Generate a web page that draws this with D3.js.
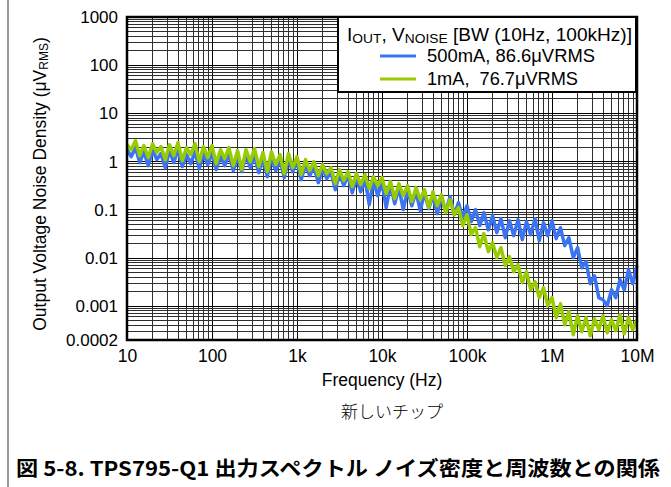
<!DOCTYPE html>
<html><head><meta charset="utf-8">
<script src="https://cdn.jsdelivr.net/npm/d3@7"></script>
<style>body{margin:0;background:#fff}svg{display:block}</style>
</head><body>
<svg id="c" width="671" height="487"></svg>
<script>
// ---- data ----
const freqs = [
 10,11.2,12.6,14.1,15.8,17.8,20,22.4,25.1,28.2,31.6,35.5,39.8,44.7,50.1,56.2,63.1,70.8,79.4,89.1,
 100,112,126,141,158,178,200,224,251,282,316,355,398,447,501,562,631,708,794,891,
 1e3,1.12e3,1.26e3,1.41e3,1.58e3,1.78e3,2e3,2.24e3,2.51e3,2.82e3,3.16e3,3.55e3,3.98e3,4.47e3,5.01e3,5.62e3,6.31e3,7.08e3,7.94e3,8.91e3,
 1e4,1.12e4,1.26e4,1.41e4,1.58e4,1.78e4,2e4,2.24e4,2.51e4,2.82e4,3.16e4,3.55e4,3.98e4,4.47e4,5.01e4,5.62e4,6.31e4,7.08e4,7.94e4,8.91e4,
 1e5,1.12e5,1.26e5,1.41e5,1.58e5,1.78e5,2e5,2.24e5,2.51e5,2.82e5,3.16e5,3.55e5,3.98e5,4.47e5,5.01e5,5.62e5,6.31e5,7.08e5,7.94e5,8.91e5,
 1e6,1.12e6,1.26e6,1.41e6,1.58e6,1.78e6,2e6,2.24e6,2.51e6,2.82e6,3.16e6,3.55e6,3.98e6,4.47e6,5.01e6,5.62e6,6.31e6,7.08e6,7.94e6,8.91e6,
 1e7
];
const noise500mA = [
 1.77,1.27,1.95,0.953,1.61,0.826,1.77,1.10,1.47,0.751,1.69,0.953,1.77,0.788,1.40,0.909,1.61,0.716,1.47,0.867,
 1.54,0.682,1.33,0.826,1.47,0.651,1.27,0.620,1.40,0.751,1.33,0.591,1.21,0.488,1.27,0.651,1.10,0.466,1.15,0.620,
 1.00,0.423,0.867,0.512,0.788,0.367,0.716,0.444,0.620,0.262,0.564,0.318,0.512,0.227,0.466,0.238,0.444,0.128,0.404,0.197,
 0.367,0.111,0.333,0.134,0.289,0.101,0.262,0.122,0.238,0.0962,0.227,0.106,0.197,0.0834,0.179,0.0918,0.188,0.0795,0.141,0.0689,
 0.122,0.0569,0.101,0.0470,0.0875,0.0388,0.0758,0.0337,0.0657,0.0265,0.0597,0.0292,0.0626,0.0241,0.0569,0.0306,0.0657,0.0230,0.0543,0.0292,
 0.0597,0.0253,0.0427,0.0181,0.0265,0.0102,0.0164,0.00632,0.00842,0.00294,0.00431,0.00151,0.00137,0.00103,0.00221,0.00151,0.00356,0.00221,0.00574,0.00294,
 0.00696
];
const noise1mA = [
 2.25,1.77,2.73,1.33,2.15,1.21,2.36,1.54,2.05,1.10,2.25,1.33,2.48,1.05,1.95,1.40,2.36,1.00,2.05,1.21,
 2.15,0.909,1.77,1.15,1.95,0.826,1.69,0.682,1.77,1.00,1.86,0.788,1.54,0.620,1.61,0.867,1.40,0.564,1.47,0.751,
 1.27,0.537,1.10,0.651,1.00,0.512,0.867,0.564,0.751,0.350,0.682,0.404,0.620,0.303,0.564,0.333,0.537,0.275,0.488,0.318,
 0.466,0.217,0.385,0.171,0.350,0.197,0.318,0.148,0.289,0.163,0.262,0.111,0.238,0.122,0.207,0.0875,0.163,0.0795,0.111,0.0470,
 0.0795,0.0306,0.0427,0.0172,0.0321,0.0136,0.0209,0.0102,0.0164,0.00696,0.0107,0.00522,0.00730,0.00309,0.00522,0.00221,0.00324,0.00151,0.00243,0.00103,
 0.00151,0.000580,0.00113,0.000415,0.000773,0.000258,0.000638,0.000297,0.000580,0.000245,0.000553,0.000327,0.000638,0.000283,0.000527,0.000312,0.000669,0.000270,0.000580,0.000327,
 0.000527
];
const xTickValues = [10,100,1e3,1e4,1e5,1e6,1e7];
const xTickLabels = ["10","100","1k","10k","100k","1M","10M"];
const yTickValues = [1000,100,10,1,0.1,0.01,0.001,0.0002];
const yTickLabels = ["1000","100","10","1","0.1","0.01","0.001","0.0002"];
const seriesLabels = ["500mA, 86.6\u03bcVRMS","1mA,  76.7\u03bcVRMS"];
const seriesColors = ["#3b74f2","#99cc00"];

// ---- drawing ----
const svg = d3.select("#c");
const FONT = "'Liberation Sans', Arial, Helvetica, sans-serif";
const M = {left:127, right:637, top:17, bottom:340};

svg.append("rect").attr("x",0).attr("y",0).attr("width",671).attr("height",487).attr("fill","#fff");
svg.append("line").attr("x1",8).attr("x2",8).attr("y1",0).attr("y2",487)
   .attr("stroke","#9a9a9a").attr("stroke-width",2);

const x = d3.scaleLog().domain([10,1e7]).range([M.left,M.right]);
const y = d3.scaleLog().domain([0.0002,1000]).range([M.bottom,M.top]);

const grid = svg.append("g").attr("shape-rendering","crispEdges");
const isMajor = v => Math.abs(Math.log10(v) - Math.round(Math.log10(v))) < 1e-6;
x.ticks().forEach(v => {
  grid.append("line").attr("x1",x(v)).attr("x2",x(v)).attr("y1",M.top).attr("y2",M.bottom)
    .attr("stroke", isMajor(v) ? "#000" : "#2e2e2e").attr("stroke-width",1);
});
y.ticks().filter(v => v >= 0.0002 && v <= 1000).forEach(v => {
  grid.append("line").attr("x1",M.left).attr("x2",M.right).attr("y1",y(v)).attr("y2",y(v))
    .attr("stroke", isMajor(v) ? "#000" : "#2e2e2e").attr("stroke-width",1);
});

// series
const line = d3.line().x((d,i) => x(freqs[i])).y(d => y(d));
[noise500mA, noise1mA].forEach((s,k) => {
  svg.append("path").datum(s).attr("d",line).attr("fill","none")
    .attr("stroke",seriesColors[k]).attr("stroke-width",3.5).attr("stroke-linejoin","round");
});

// frame
svg.append("rect").attr("x",M.left).attr("y",M.top).attr("width",M.right-M.left).attr("height",M.bottom-M.top)
  .attr("fill","none").attr("stroke","#000").attr("stroke-width",2.5);

// axes
const xAxis = d3.axisBottom(x).tickValues(xTickValues).tickFormat((d,i)=>xTickLabels[i]).tickSize(0).tickPadding(10);
const gx = svg.append("g").attr("transform",`translate(0,${M.bottom})`).call(xAxis);
gx.select(".domain").remove();
gx.selectAll("text").attr("font-family",FONT).attr("font-size",17.5).attr("fill","#000");

const yAxis = d3.axisLeft(y).tickValues(yTickValues).tickFormat((d,i)=>yTickLabels[i]).tickSize(0).tickPadding(9);
const gy = svg.append("g").attr("transform",`translate(${M.left},0)`).call(yAxis);
gy.select(".domain").remove();
gy.selectAll("text").attr("font-family",FONT).attr("font-size",17).attr("fill","#000");

svg.append("text").attr("x",(M.left+M.right)/2).attr("y",386).attr("text-anchor","middle")
  .attr("font-family",FONT).attr("font-size",17.5).text("Frequency (Hz)");

const yt = svg.append("text").attr("transform","translate(46,184) rotate(-90)").attr("text-anchor","middle")
  .attr("font-family",FONT).attr("font-size",17.5);
yt.append("tspan").text("Output Voltage Noise Density (\u03bcV");
yt.append("tspan").attr("font-size",12).attr("dy",2).text("RMS");
yt.append("tspan").attr("dy",-2).text(")");

// legend
const lg = svg.append("g");
lg.append("rect").attr("x",338).attr("y",17).attr("width",298).attr("height",75)
  .attr("fill","#fff").attr("stroke","#000").attr("stroke-width",2);
const t1 = lg.append("text").attr("x",347).attr("y",41).attr("font-family",FONT).attr("font-size",18)
  .attr("textLength",285).attr("lengthAdjust","spacingAndGlyphs");
t1.append("tspan").text("I");
t1.append("tspan").attr("font-size",13).attr("dy",1.5).text("OUT");
t1.append("tspan").attr("dy",-1.5).text(", V");
t1.append("tspan").attr("font-size",13).attr("dy",1.5).text("NOISE");
t1.append("tspan").attr("dy",-1.5).text(" [BW (10Hz, 100kHz)]");
const legendTextWidths = [168, 151];
seriesLabels.forEach((lab,k) => {
  const yy = 56 + k*23;
  lg.append("line").attr("x1",380).attr("x2",416).attr("y1",yy).attr("y2",yy)
    .attr("stroke",seriesColors[k]).attr("stroke-width",3);
  lg.append("text").attr("x",427).attr("y",yy+6).attr("font-family",FONT).attr("font-size",18)
    .attr("textLength",legendTextWidths[k]).attr("lengthAdjust","spacingAndGlyphs")
    .attr("xml:space","preserve").style("white-space","pre").text(lab);
});

// captions
svg.append("text").attr("x",392).attr("y",418).attr("text-anchor","middle")
  .attr("font-family","'Noto Sans CJK JP', sans-serif").attr("font-weight",300).attr("font-size",17)
  .text("新しいチップ");
svg.append("text").attr("x",16).attr("y",476).attr("textLength",644).attr("lengthAdjust","spacingAndGlyphs")
  .attr("font-family","'Noto Sans CJK JP', sans-serif").attr("font-weight",700).attr("font-size",20.5)
  .text("図 5-8. TPS795-Q1 出力スペクトル ノイズ密度と周波数との関係");
</script>
</body></html>
